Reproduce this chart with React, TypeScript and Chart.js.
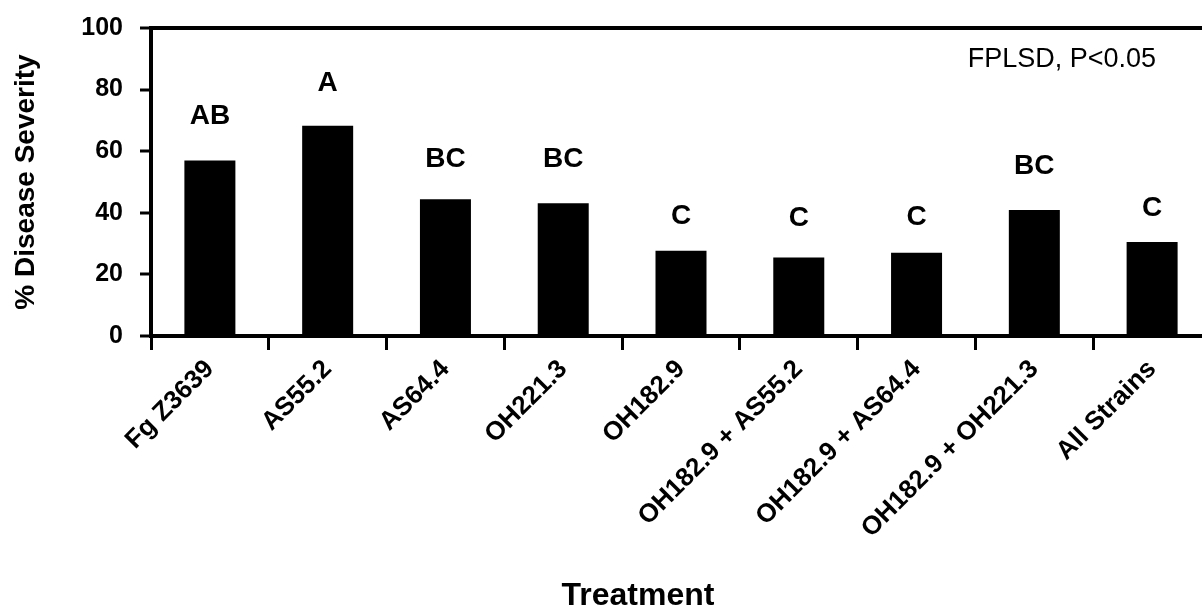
import React, { useEffect, useRef } from "react";
import { Chart, registerables } from "chart.js";

Chart.register(...registerables);

const FONT = "'Liberation Sans', Arial, Helvetica, sans-serif";

const categories = [
  "Fg Z3639",
  "AS55.2",
  "AS64.4",
  "OH221.3",
  "OH182.9",
  "OH182.9 + AS55.2",
  "OH182.9 + AS64.4",
  "OH182.9 + OH221.3",
  "All Strains",
];
const severity = [57, 68.3, 44.4, 43.1, 27.7, 25.5, 27.0, 40.9, 30.5];
const groupLetters = ["AB", "A", "BC", "BC", "C", "C", "C", "BC", "C"];
const letterLevels = [71.4, 82.1, 57.5, 57.5, 39, 38.3, 38.6, 55.2, 41.6];
const yMin = 0;
const yMax = 100;
const yStep = 20;
const xTitle = "Treatment";
const yTitle = "% Disease Severity";
const note = "FPLSD, P<0.05";

const annotate = {
  id: "annotate",
  afterDatasetsDraw(chart: any) {
    const { ctx, scales, chartArea } = chart;
    const x = scales.x;
    const y = scales.y;
    ctx.save();
    ctx.fillStyle = "#000";
    ctx.textAlign = "center";
    ctx.textBaseline = "middle";
    ctx.font = `bold 28px ${FONT}`;
    groupLetters.forEach((l, i) => {
      ctx.fillText(l, x.getPixelForValue(i), y.getPixelForValue(letterLevels[i]));
    });
    ctx.textBaseline = "alphabetic";
    ctx.font = `27px ${FONT}`;
    ctx.textAlign = "right";
    ctx.fillText(note, chartArea.right - 55, 67);
    ctx.font = `bold 32px ${FONT}`;
    ctx.textAlign = "center";
    ctx.fillText(xTitle, 638, 605);
    ctx.restore();
  },
};

export default function App() {
  const ref = useRef<HTMLCanvasElement>(null);
  useEffect(() => {
    const chart = new Chart(ref.current as HTMLCanvasElement, {
      type: "bar",
      data: {
        labels: categories,
        datasets: [
          {
            data: severity,
            backgroundColor: "#000",
            borderWidth: 0,
            categoryPercentage: 1,
            barPercentage: 0.433,
          },
        ],
      },
      options: {
        animation: false,
        responsive: true,
        maintainAspectRatio: false,
        layout: { padding: { top: 28, right: 29, bottom: 0, left: 0 } },
        plugins: {
          legend: { display: false },
          tooltip: { enabled: false },
        },
        scales: {
          x: {
            grid: {
              offset: true,
              drawOnChartArea: false,
              tickColor: "#000",
              tickWidth: 3,
              tickLength: 14,
              lineWidth: 3,
            },
            border: { display: true, color: "#000", width: 4 },
            ticks: {
              color: "#000",
              font: { family: FONT, size: 26, weight: "bold" },
              minRotation: 45,
              maxRotation: 45,
              padding: 4,
              autoSkip: false,
            },
            afterFit: (s: any) => {
              s.height = 272;
            },
          },
          y: {
            min: yMin,
            max: yMax,
            ticks: {
              stepSize: yStep,
              color: "#000",
              font: { family: FONT, size: 25, weight: "bold" },
              padding: 17,
            },
            grid: {
              color: (c: any) => (c.tick && c.tick.value === yMax ? "#000" : "rgba(0,0,0,0)"),
              lineWidth: 4,
              tickColor: "#000",
              tickWidth: 3,
              tickLength: 11,
            },
            border: { display: true, color: "#000", width: 4 },
            title: {
              display: true,
              text: yTitle,
              color: "#000",
              font: { family: FONT, size: 28, weight: "bold" },
              padding: { top: 9, bottom: 0 },
            },
            afterFit: (s: any) => {
              s.width = 151;
              s.paddingTop = 0;
              s.paddingBottom = 0;
            },
          },
        },
      },
      plugins: [annotate],
    } as any);
    return () => chart.destroy();
  }, []);
  return (
    <div
      style={{
        position: "fixed",
        left: 0,
        top: 0,
        width: 1202,
        height: 608,
        overflow: "hidden",
        background: "#fff",
      }}
    >
      <div style={{ position: "relative", width: 1240, height: 608 }}>
        <canvas ref={ref} />
      </div>
    </div>
  );
}
